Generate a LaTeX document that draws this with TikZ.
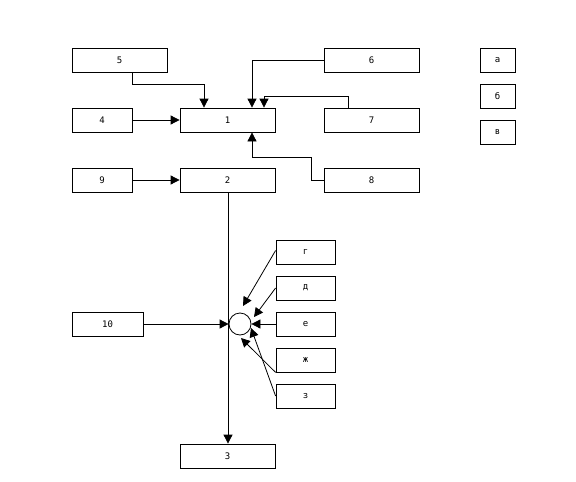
\documentclass[tikz,border=0pt]{standalone}
\usepackage{fontspec}
\setmainfont{DejaVu Sans Mono}
\usetikzlibrary{arrows.meta}
\begin{document}
\begin{tikzpicture}[x=1pt,y=-1pt,
  box/.style={draw,line width=0.8pt,inner sep=0pt,minimum height=24pt,font=\fontsize{9}{10}\selectfont},
  wbox/.style={box,minimum width=95pt},
  sbox/.style={box,minimum width=60pt},
  tbox/.style={box,minimum width=35pt},
  rbox/.style={box,minimum width=59pt},
  arr/.style={line width=0.8pt,-{Triangle[length=9pt,width=9pt]}},
  ln/.style={line width=0.8pt}]
\useasboundingbox[fill=white] (0,0) rectangle (576,482);
\node[wbox] (n5) at (119.5,60) {5};
\node[sbox] (n4) at (102,120) {4};
\node[wbox] (n1) at (227.5,120) {1};
\node[sbox] (n9) at (102,180) {9};
\node[wbox] (n2) at (227.5,180) {2};
\node[wbox] (n6) at (371.5,60) {6};
\node[wbox] (n7) at (371.5,120) {7};
\node[wbox] (n8) at (371.5,180) {8};
\node[tbox] (na) at (497.5,60) {а};
\node[tbox] (nb) at (497.5,96) {б};
\node[tbox] (nv) at (497.5,132) {в};
\node[box,minimum width=71pt] (n10) at (107.5,324) {10};
\node[rbox] (ng) at (305.5,252) {г};
\node[rbox] (nd) at (305.5,288) {д};
\node[rbox] (ne) at (305.5,324) {е};
\node[rbox] (nzh) at (305.5,360) {ж};
\node[rbox] (nz) at (305.5,396) {з};
\node[wbox] (n3) at (227.5,456) {3};
\node[draw,line width=0.8pt,circle,minimum size=22pt,inner sep=0pt] (c) at (240,324) {};
\coordinate (tg) at (243,306);
\coordinate (td) at (254,317);
\coordinate (tzh) at (241,338);
\coordinate (tz) at (251,328);
\draw[arr] ([xshift=12.5]n5.south) -- ++(0,12) -| ([xshift=-23.5]n1.north);
\draw[arr] (n6.west) -| ([xshift=24.5]n1.north);
\draw[arr] ([xshift=-23.5]n7.north) -- ++(0,-11) -| ([xshift=36.5]n1.north);
\draw[arr] (n8.west) -- ++(-12,0) -- ++(0,-23) -| ([xshift=24.5]n1.south);
\draw[arr] (n4) -- (n1);
\draw[arr] (n9) -- (n2);
\draw[arr] ([xshift=0.5]n2.south) -- ([xshift=0.5]n3.north);
\draw[arr] (n10) -- (c);
\draw[arr] ([yshift=1.5]ng.west) -- (tg);
\draw[arr] (nd.west) -- (td);
\draw[arr] (ne) -- (c);
\draw[arr] (nzh.south west) -- (tzh);
\draw[arr] (nz.west) -- (tz);
\end{tikzpicture}
\end{document}
